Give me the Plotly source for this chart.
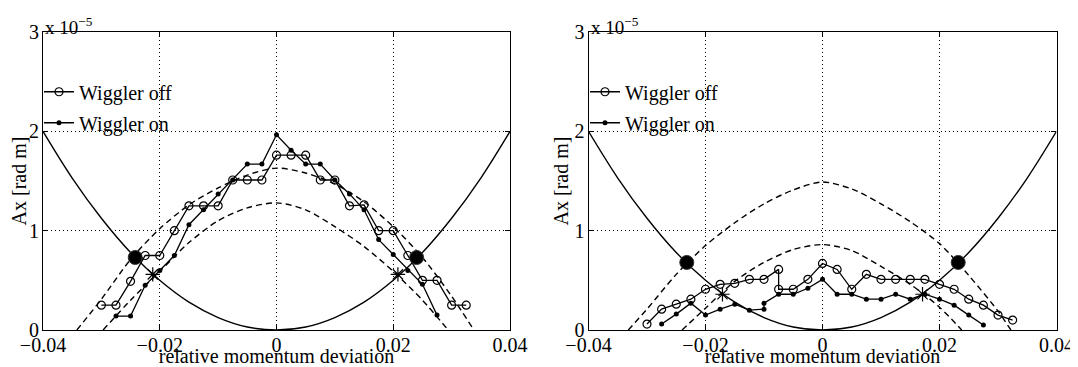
import plotly.graph_objects as go

# ---------------- data (Ax in units of 1e-5 rad m) ----------------
x_ticks = [-0.04, -0.02, 0, 0.02, 0.04]
x_ticktext = ["\u22120.04", "\u22120.02", "0", "0.02", "0.04"]
y_ticks = [0, 1, 2, 3]
y_ticktext = ["0", "1", "2", "3"]

# solid acceptance curve (same in both panels)
x_solid = [-0.04, -0.035, -0.03, -0.025, -0.02, -0.015, -0.01, -0.005, 0.0,
           0.005, 0.01, 0.015, 0.02, 0.025, 0.03, 0.035, 0.04]
y_solid = [2.0, 1.53, 1.125, 0.78, 0.5, 0.28, 0.125, 0.03, 0.0,
           0.03, 0.125, 0.28, 0.5, 0.78, 1.125, 1.53, 2.0]

# left panel
x_dashA_L = [-0.0342, -0.03, -0.025, -0.02, -0.015, -0.01, -0.005, 0.0,
             0.005, 0.01, 0.015, 0.02, 0.025, 0.03, 0.0338]
y_dashA_L = [0.0, 0.31, 0.71, 1.02, 1.26, 1.43, 1.56, 1.63,
             1.58, 1.47, 1.29, 1.04, 0.73, 0.34, 0.0]
x_dashB_L = [-0.0297, -0.025, -0.02, -0.015, -0.01, -0.005, 0.0,
             0.005, 0.01, 0.015, 0.02, 0.025, 0.0294]
y_dashB_L = [0.0, 0.3, 0.59, 0.88, 1.1, 1.23, 1.28,
             1.21, 1.04, 0.84, 0.59, 0.3, 0.0]
x_off_L = [-0.030, -0.0275, -0.025, -0.0225, -0.020, -0.0175, -0.015, -0.0125,
           -0.010, -0.0075, -0.005, -0.0025, 0.0, 0.0025, 0.005, 0.0075, 0.010,
           0.0125, 0.015, 0.0175, 0.020, 0.0225, 0.025, 0.0275, 0.030, 0.0325]
y_off_L = [0.25, 0.25, 0.49, 0.75, 0.75, 1.0, 1.25, 1.25, 1.25, 1.51, 1.51, 1.51,
           1.76, 1.76, 1.76, 1.51, 1.51, 1.25, 1.26, 1.0, 1.0, 0.75, 0.5, 0.5,
           0.25, 0.25]
x_on_L = [-0.0275, -0.025, -0.0225, -0.02, -0.0175, -0.015, -0.0125, -0.01,
          -0.0075, -0.005, -0.0025, 0.0, 0.0025, 0.005, 0.0075, 0.01, 0.0125,
          0.015, 0.0175, 0.02, 0.0225, 0.025, 0.0275]
y_on_L = [0.14, 0.14, 0.45, 0.60, 0.75, 1.06, 1.21, 1.37, 1.51, 1.67, 1.67,
          1.965, 1.81, 1.67, 1.67, 1.51, 1.37, 1.21, 0.91, 0.76, 0.60, 0.46, 0.15]
x_big_L = [-0.0242, 0.0240]
y_big_L = [0.73, 0.73]
x_star_L = [-0.0212, 0.0208]
y_star_L = [0.56, 0.56]

# right panel
x_dashA_R = [-0.0332, -0.03, -0.025, -0.02, -0.015, -0.01, -0.005, 0.0,
             0.005, 0.01, 0.015, 0.02, 0.025, 0.03, 0.0322]
y_dashA_R = [0.0, 0.21, 0.56, 0.85, 1.08, 1.27, 1.41, 1.49,
             1.42, 1.27, 1.09, 0.87, 0.55, 0.19, 0.0]
x_dashB_R = [-0.024, -0.02, -0.015, -0.01, -0.005, 0.0, 0.005, 0.01, 0.015,
             0.02, 0.0238]
y_dashB_R = [0.0, 0.22, 0.49, 0.68, 0.81, 0.86, 0.80, 0.64, 0.46, 0.23, 0.0]
x_off_R = [-0.030, -0.0275, -0.025, -0.0225, -0.020, -0.0175, -0.015, -0.0125,
           -0.010, -0.0075, -0.0075, -0.005, -0.0025, 0.0, 0.0025, 0.005, 0.0075,
           0.010, 0.0125, 0.015, 0.0175, 0.020, 0.0225, 0.025, 0.0275, 0.030,
           0.0325]
y_off_R = [0.06, 0.21, 0.26, 0.31, 0.41, 0.46, 0.47, 0.51, 0.51, 0.61, 0.41,
           0.41, 0.51, 0.67, 0.61, 0.41, 0.56, 0.51, 0.51, 0.51, 0.51, 0.46,
           0.41, 0.31, 0.25, 0.15, 0.10]
x_on_R = [-0.0275, -0.025, -0.0225, -0.020, -0.0175, -0.015, -0.0125, -0.010,
          -0.010, -0.0075, -0.005, -0.0025, 0.0, 0.0025, 0.005, 0.0075, 0.010,
          0.0125, 0.015, 0.0175, 0.020, 0.0225, 0.025, 0.0275]
y_on_R = [0.06, 0.16, 0.27, 0.15, 0.21, 0.26, 0.20, 0.21, 0.27, 0.36, 0.36,
          0.42, 0.51, 0.36, 0.36, 0.31, 0.31, 0.36, 0.31, 0.36, 0.31, 0.25,
          0.15, 0.05]
x_big_R = [-0.0232, 0.0232]
y_big_R = [0.68, 0.68]
x_star_R = [-0.0171, 0.0171]
y_star_R = [0.36, 0.36]

series_names = ["Wiggler off", "Wiggler on"]
x_title = "relative momentum deviation"
y_title = "Ax [rad m]"

# ---------------- figure ----------------
FONT = "Liberation Serif"
fig = go.Figure()

panels = [
    dict(xa="x", ya="y", leg="legend", tag="L",
         dA=(x_dashA_L, y_dashA_L), dB=(x_dashB_L, y_dashB_L),
         off=(x_off_L, y_off_L), on=(x_on_L, y_on_L),
         big=(x_big_L, y_big_L), star=(x_star_L, y_star_L)),
    dict(xa="x2", ya="y2", leg="legend2", tag="R",
         dA=(x_dashA_R, y_dashA_R), dB=(x_dashB_R, y_dashB_R),
         off=(x_off_R, y_off_R), on=(x_on_R, y_on_R),
         big=(x_big_R, y_big_R), star=(x_star_R, y_star_R)),
]

for p in panels:
    common = dict(xaxis=p["xa"], yaxis=p["ya"], legend=p["leg"])
    fig.add_trace(go.Scatter(x=x_solid, y=y_solid, mode="lines",
                             line=dict(color="black", width=1.4, shape="spline"),
                             showlegend=False, hoverinfo="skip", **common))
    for dx, dy in (p["dA"], p["dB"]):
        fig.add_trace(go.Scatter(x=dx, y=dy, mode="lines",
                                 line=dict(color="black", width=1.4, dash="6px,4px",
                                           shape="spline", smoothing=0.8),
                                 showlegend=False, hoverinfo="skip", **common))
    fig.add_trace(go.Scatter(x=p["off"][0], y=p["off"][1], mode="lines+markers",
                             name=series_names[0], legendgroup="off" + p["tag"],
                             line=dict(color="black", width=1.3),
                             marker=dict(symbol="circle-open", size=8, color="black",
                                         line=dict(width=1.2, color="black")),
                             **common))
    fig.add_trace(go.Scatter(x=p["on"][0], y=p["on"][1], mode="lines+markers",
                             name=series_names[1], legendgroup="on" + p["tag"],
                             line=dict(color="black", width=1.3),
                             marker=dict(symbol="circle", size=5, color="black"),
                             **common))
    fig.add_trace(go.Scatter(x=p["big"][0], y=p["big"][1], mode="markers",
                             marker=dict(symbol="circle", size=14, color="black",
                                         line=dict(width=1, color="#333")),
                             showlegend=False, hoverinfo="skip", **common))
    fig.add_trace(go.Scatter(x=p["star"][0], y=p["star"][1], mode="markers",
                             marker=dict(symbol="asterisk-open", size=12, color="black",
                                         line=dict(width=1.2, color="black")),
                             showlegend=False, hoverinfo="skip", **common))

axis_common = dict(
    showline=True, linecolor="black", linewidth=1.2, mirror="ticks",
    ticks="inside", ticklen=5, tickcolor="black", automargin=False,
    showgrid=True, gridcolor="black", gridwidth=1, griddash="1px,3px",
    zeroline=False, tickfont=dict(family=FONT, size=20, color="black"),
)

# the page body adds an 8 px offset, so the figure is 8 px smaller each way
W, H = 1070, 359
xdomL = [35 / W, 502 / W]
xdomR = [580.5 / W, 1048.5 / W]

def xaxis(dom, anchor):
    return dict(domain=dom, range=[-0.04, 0.04], tickvals=x_ticks,
                ticktext=x_ticktext, anchor=anchor, ticklabelstandoff=-3,
                title=dict(text=x_title, standoff=2,
                           font=dict(family=FONT, size=20, color="black")),
                **axis_common)

def yaxis(anchor):
    return dict(domain=[0, 1], range=[0, 3], tickvals=y_ticks,
                ticktext=y_ticktext, anchor=anchor, ticklabelstandoff=-1,
                title=dict(text=y_title, standoff=0,
                           font=dict(family=FONT, size=20, color="black")),
                **axis_common)

def legend(x0):
    return dict(x=x0, y=0.865, xanchor="left", yanchor="top",
                bgcolor="rgba(0,0,0,0)", borderwidth=0, itemwidth=30,
                tracegroupgap=2,
                font=dict(family=FONT, size=20, color="black"))

fig.update_layout(
    width=W, height=H,
    margin=dict(l=0, r=0, t=24, b=37, autoexpand=False),
    paper_bgcolor="white", plot_bgcolor="white",
    font=dict(family=FONT, size=20, color="black"),
    xaxis=xaxis(xdomL, "y"), yaxis=yaxis("x"),
    xaxis2=xaxis(xdomR, "y2"), yaxis2=yaxis("x2"),
    legend=legend(31 / W), legend2=legend(577 / W),
    annotations=[
        dict(text="x 10<sup>\u22125</sup>", xref="paper", yref="paper",
             x=xdomL[0], y=1, xanchor="left", yanchor="bottom", showarrow=False,
             font=dict(family=FONT, size=19, color="black"), yshift=-8, xshift=0),
        dict(text="x 10<sup>\u22125</sup>", xref="paper", yref="paper",
             x=xdomR[0], y=1, xanchor="left", yanchor="bottom", showarrow=False,
             font=dict(family=FONT, size=19, color="black"), yshift=-8, xshift=0),
    ],
)

fig.write_html("out.html")
